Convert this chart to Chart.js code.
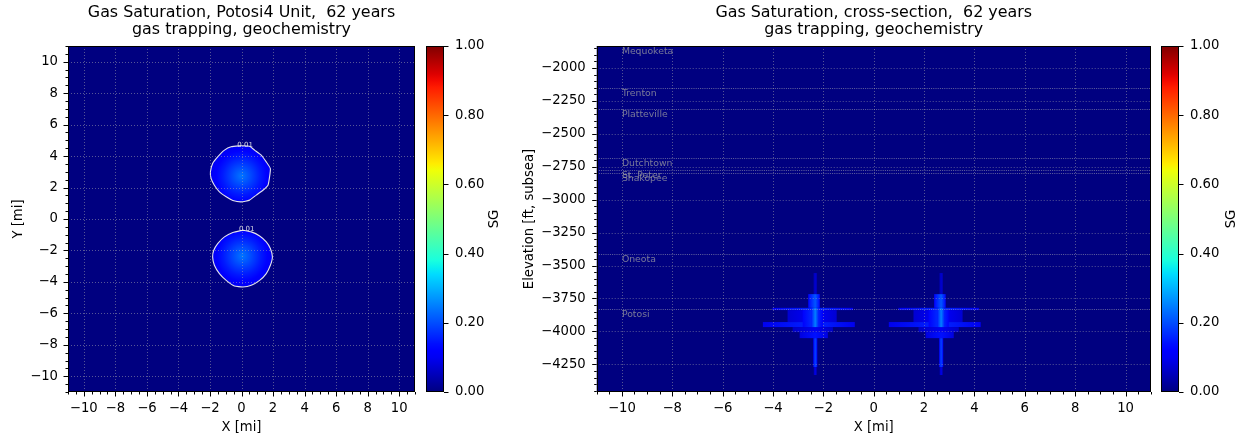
<!DOCTYPE html>
<html>
<head>
<meta charset="utf-8">
<script src="https://cdn.jsdelivr.net/npm/chart.js@4.4.0/dist/chart.umd.min.js"></script>
<style>
  body { margin: 0; background: #fff; width: 1241px; height: 438px; position: relative; overflow: hidden; }
  .panel { position: absolute; top: 0; height: 438px; }
  canvas { display: block; }
</style>
</head>
<body>
<div class="panel" style="left:0;width:430px"><canvas id="mapChart" width="430" height="438"></canvas></div>
<div class="panel" style="left:420px;width:100px"><canvas id="mapBar" width="100" height="438"></canvas></div>
<div class="panel" style="left:520px;width:640px"><canvas id="xsecChart" width="640" height="438"></canvas></div>
<div class="panel" style="left:1155px;width:86px"><canvas id="xsecBar" width="86" height="438"></canvas></div>
<script>
// ---- data ----
const mileTicks = [-10, -8, -6, -4, -2, 0, 2, 4, 6, 8, 10];
const elevTicks = [-2000, -2250, -2500, -2750, -3000, -3250, -3500, -3750, -4000, -4250];
const sgTicks = [0, 0.2, 0.4, 0.6, 0.8, 1.0];

// injection wells in map view
const wellX = [0.0, 0.04];
const wellY = [2.74, -2.35];

// SG = 0.01 contour around each well
const northContourX = [-0.02, -0.66, -1.08, -1.51, -1.83, -1.97, -1.93, -1.72, -1.40, -0.97, -0.55, -0.02, 0.51, 0.94, 1.36, 1.68, 1.78, 1.83, 1.57, 1.25, 0.83, 0.51, -0.02];
const northContourY = [4.66, 4.59, 4.38, 3.95, 3.53, 3.00, 2.58, 2.15, 1.73, 1.41, 1.18, 1.09, 1.20, 1.52, 1.83, 2.15, 2.68, 3.21, 3.63, 4.06, 4.38, 4.63, 4.66];
const southContourX = [0.08, -0.55, -1.08, -1.51, -1.76, -1.83, -1.72, -1.40, -0.97, -0.45, 0.08, 0.62, 1.15, 1.57, 1.83, 1.96, 1.83, 1.57, 1.15, 0.62, 0.08];
const southContourY = [-0.71, -0.86, -1.14, -1.56, -1.99, -2.41, -2.94, -3.47, -3.90, -4.26, -4.32, -4.21, -3.90, -3.47, -2.94, -2.41, -1.88, -1.46, -1.08, -0.82, -0.71];

// SG falling off with distance from a well [mi]
const profileRadius = [0, 0.4, 0.8, 1.2, 1.6, 2.0];
const profileSG = [0.24, 0.21, 0.18, 0.15, 0.12, 0.10];

// formation tops [ft, subsea]
const formationNames = ["Mequoketa", "Trenton", "Platteville", "Dutchtown", "St. Peter", "Shakopee", "Oneota", "Potosi"];
const formationTops = [-1833, -2149, -2313, -2687, -2776, -2797, -3413, -3828];

// wells along the cross-section line
const xsecWellX = [-2.32, 2.68];

// plume cells around each well: offsets [mi], depths [ft], SG
const cellLeft   = [-0.07, -1.70, -1.10, -2.08, -0.90, -0.62, -0.50, -0.28, -0.16, -0.08, -0.06];
const cellRight  = [ 0.07,  1.50,  0.85,  1.57,  0.70,  0.50,  0.30,  0.18,  0.14,  0.08,  0.06];
const cellTop    = [-3557, -3821, -3838, -3929, -3967, -4005, -3838, -3717, -3821, -4051, -4271];
const cellBottom = [-3717, -3838, -3929, -3967, -4005, -4051, -3967, -3821, -3967, -4271, -4331];
const cellSG     = [ 0.07,  0.16,  0.12,  0.16,  0.10,  0.14,  0.18,  0.21,  0.25,  0.19,  0.09];

// ---- helpers ----
const FONT = "'DejaVu Sans', 'Liberation Sans', sans-serif";
Chart.defaults.font.family = FONT;
Chart.defaults.color = "#000";

function jet(v) {
  const seg = (pts) => {
    for (let i = 1; i < pts.length; i++) {
      if (v <= pts[i][0]) {
        const [x0, y0] = pts[i - 1], [x1, y1] = pts[i];
        return y0 + (y1 - y0) * (v - x0) / (x1 - x0);
      }
    }
    return pts[pts.length - 1][1];
  };
  const r = seg([[0, 0], [0.35, 0], [0.66, 1], [0.89, 1], [1, 0.5]]);
  const g = seg([[0, 0], [0.125, 0], [0.375, 1], [0.64, 1], [0.91, 0], [1, 0]]);
  const b = seg([[0, 0.5], [0.11, 1], [0.34, 1], [0.65, 0], [1, 0]]);
  return `rgb(${Math.round(r * 255)},${Math.round(g * 255)},${Math.round(b * 255)})`;
}

const fmtMinus = (v) => String(v).replace("-", "\u2212");
const toPoints = (xs, ys) => xs.map((x, i) => ({ x: x, y: ys[i] }));

// background, dotted grid, frame and outward ticks
const axesDecor = {
  id: "axesDecor",
  beforeDatasetsDraw(chart, args, opts) {
    const { ctx, chartArea: a } = chart;
    if (!opts.background) return;
    ctx.save();
    ctx.fillStyle = opts.background;
    ctx.fillRect(a.left, a.top, a.right - a.left, a.bottom - a.top);
    ctx.restore();
  },
  afterDatasetsDraw(chart, args, opts) {
    if (!opts.grid) return;
    const { ctx, chartArea: a, scales } = chart;
    ctx.save();
    ctx.strokeStyle = "rgba(176,176,176,0.55)";
    ctx.lineWidth = 0.9;
    ctx.setLineDash([1, 2]);
    scales.x.ticks.forEach((t) => {
      const px = Math.round(scales.x.getPixelForValue(t.value)) + 0.5;
      ctx.beginPath(); ctx.moveTo(px, a.top); ctx.lineTo(px, a.bottom); ctx.stroke();
    });
    scales.y.ticks.forEach((t) => {
      const py = Math.round(scales.y.getPixelForValue(t.value)) + 0.5;
      ctx.beginPath(); ctx.moveTo(a.left, py); ctx.lineTo(a.right, py); ctx.stroke();
    });
    ctx.restore();
  },
  afterDraw(chart, args, opts) {
    const { ctx, chartArea: a, scales } = chart;
    ctx.save();
    ctx.strokeStyle = "#000";
    ctx.lineWidth = 1;
    ctx.setLineDash([]);
    const tick = (x0, y0, x1, y1) => { ctx.beginPath(); ctx.moveTo(x0, y0); ctx.lineTo(x1, y1); ctx.stroke(); };
    if (opts.xTicks) {
      const sx = scales.x;
      sx.ticks.forEach((t) => {
        const px = Math.round(sx.getPixelForValue(t.value)) + 0.5;
        tick(px, a.bottom, px, a.bottom + 4.5);
      });
      for (let v = Math.ceil(sx.min / opts.minorX) * opts.minorX; v <= sx.max; v += opts.minorX) {
        if (sx.ticks.some((t) => Math.abs(t.value - v) < 1e-6)) continue;
        const px = Math.round(sx.getPixelForValue(v)) + 0.5;
        tick(px, a.bottom, px, a.bottom + 2.5);
      }
    }
    const sy = scales.y;
    const side = opts.ySide || "left";
    const edge = side === "left" ? a.left : a.right;
    const dir = side === "left" ? -1 : 1;
    sy.ticks.forEach((t) => {
      const py = Math.round(sy.getPixelForValue(t.value)) + 0.5;
      tick(edge, py, edge + dir * 4.5, py);
    });
    if (opts.minorY) {
      for (let v = Math.ceil(sy.min / opts.minorY) * opts.minorY; v <= sy.max; v += opts.minorY) {
        if (sy.ticks.some((t) => Math.abs(t.value - v) < 1e-6)) continue;
        const py = Math.round(sy.getPixelForValue(v)) + 0.5;
        tick(edge, py, edge + dir * 2.5, py);
      }
    }
    // frame
    ctx.strokeRect(Math.round(a.left) + 0.5, Math.round(a.top) + 0.5,
      Math.round(a.right - a.left) - 1, Math.round(a.bottom - a.top) - 1);
    // colorbar label
    if (opts.sideTitle) {
      ctx.fillStyle = "#000";
      ctx.font = `13.2px ${FONT}`;
      ctx.textAlign = "center";
      ctx.textBaseline = "middle";
      ctx.translate(opts.sideTitleX, (a.top + a.bottom) / 2);
      ctx.rotate(-Math.PI / 2);
      ctx.fillText(opts.sideTitle, 0, 0);
    }
    ctx.restore();
  }
};

// "0.01" labels on the map contours
const contourLabels = {
  id: "contourLabels",
  afterDatasetsDraw(chart) {
    const { ctx, scales } = chart;
    ctx.save();
    ctx.fillStyle = "rgba(235,235,235,0.9)";
    ctx.font = `7px ${FONT}`;
    ctx.textAlign = "center";
    ctx.textBaseline = "middle";
    [[northContourX, northContourY], [southContourX, southContourY]].forEach(([xs, ys]) => {
      const top = ys.indexOf(Math.max(...ys));
      ctx.fillText("0.01", scales.x.getPixelForValue(xs[top] + 0.25), scales.y.getPixelForValue(ys[top]) - 1);
    });
    ctx.restore();
  }
};

// plume cells plus formation tops on the cross-section
const xsecLayers = {
  id: "xsecLayers",
  beforeDatasetsDraw(chart) {
    const { ctx, chartArea: a, scales: { x, y } } = chart;
    ctx.save();
    ctx.beginPath();
    ctx.rect(a.left, a.top, a.right - a.left, a.bottom - a.top);
    ctx.clip();
    xsecWellX.forEach((wx) => {
      for (let i = 0; i < cellSG.length; i++) {
        const x0 = x.getPixelForValue(wx + cellLeft[i]);
        const x1 = x.getPixelForValue(wx + cellRight[i]);
        const y0 = y.getPixelForValue(cellTop[i]);
        const y1 = y.getPixelForValue(cellBottom[i]);
        const mid = (x.getPixelForValue(wx) - x0) / (x1 - x0);
        const g = ctx.createLinearGradient(x0, 0, x1, 0);
        g.addColorStop(0, jet(cellSG[i] * 0.6));
        g.addColorStop(Math.min(Math.max(mid, 0), 1), jet(cellSG[i]));
        g.addColorStop(1, jet(cellSG[i] * 0.6));
        ctx.fillStyle = g;
        ctx.fillRect(x0, y0, x1 - x0, y1 - y0);
      }
    });
    ctx.restore();
  },
  afterDatasetsDraw(chart) {
    const { ctx, chartArea: a, scales: { x, y } } = chart;
    ctx.save();
    ctx.strokeStyle = "rgba(185,185,185,0.6)";
    ctx.lineWidth = 0.9;
    ctx.setLineDash([1, 1.2]);
    ctx.fillStyle = "rgba(160,160,160,0.75)";
    ctx.font = `9.3px ${FONT}`;
    ctx.textAlign = "left";
    ctx.textBaseline = "top";
    formationTops.forEach((top, i) => {
      const py = Math.round(y.getPixelForValue(top)) + 0.5;
      ctx.beginPath(); ctx.moveTo(a.left, py); ctx.lineTo(a.right, py); ctx.stroke();
      ctx.fillText(formationNames[i], x.getPixelForValue(-10), py + 0.5);
    });
    ctx.restore();
  }
};

function plumeGradient(c, i) {
  const chart = c.chart;
  if (!chart.chartArea) return jet(profileSG[0]);
  const sx = chart.scales.x, sy = chart.scales.y;
  const cx = sx.getPixelForValue(wellX[i]);
  const cy = sy.getPixelForValue(wellY[i]);
  const rMax = profileRadius[profileRadius.length - 1];
  const rPx = sx.getPixelForValue(rMax) - sx.getPixelForValue(0);
  const g = chart.ctx.createRadialGradient(cx, cy, 0, cx, cy, rPx);
  profileRadius.forEach((r, k) => g.addColorStop(r / rMax, jet(profileSG[k])));
  return g;
}

const titleFont = { size: 15.9, weight: "normal", lineHeight: 1.113 };
const tickFont = { size: 13.2 };

function linearAxis(min, max, ticks, pad, extra) {
  return Object.assign({
    type: "linear", min: min, max: max,
    grid: { display: false, drawTicks: false },
    border: { display: false },
    afterBuildTicks: (ax) => { ax.ticks = ticks.map((v) => ({ value: v })); },
    ticks: { font: tickFont, padding: pad, callback: fmtMinus, autoSkip: false, maxRotation: 0 }
  }, extra);
}

// ---- map view ----
new Chart(document.getElementById("mapChart"), {
  type: "scatter",
  data: {
    datasets: [
      {
        data: toPoints(northContourX, northContourY),
        showLine: true, fill: "shape", tension: 0.15,
        borderColor: "rgba(240,240,240,0.95)", borderWidth: 1.1, pointRadius: 0,
        backgroundColor: (c) => plumeGradient(c, 0)
      },
      {
        data: toPoints(southContourX, southContourY),
        showLine: true, fill: "shape", tension: 0.15,
        borderColor: "rgba(240,240,240,0.95)", borderWidth: 1.1, pointRadius: 0,
        backgroundColor: (c) => plumeGradient(c, 1)
      },
      {
        data: toPoints(wellX, wellY),
        pointStyle: "cross", pointRadius: 3.5, borderColor: "#000", borderWidth: 1.6
      }
    ]
  },
  options: {
    responsive: false, animation: false, events: [], devicePixelRatio: 1,
    layout: { padding: { left: 0, right: 15, top: 0, bottom: 0 } },
    plugins: {
      legend: { display: false }, tooltip: { enabled: false },
      title: {
        display: true, fullSize: false, color: "#000", font: titleFont,
        text: ["Gas Saturation, Potosi4 Unit,  62 years", "gas trapping, geochemistry"],
        padding: { top: 3.8, bottom: 6.8 }
      },
      axesDecor: { background: jet(0), grid: true, xTicks: true, minorX: 0.5, minorY: 0.5, ySide: "left" }
    },
    scales: {
      x: linearAxis(-11, 11, mileTicks, 9, {
        afterFit: (ax) => { ax.height = 46; },
        title: { display: true, text: "X [mi]", font: tickFont, padding: { top: 0, bottom: 3 } }
      }),
      y: linearAxis(-11, 11, mileTicks, 10, {
        afterFit: (ax) => { ax.width = 68; },
        title: { display: true, text: "Y [mi]", font: tickFont, padding: { top: 11, bottom: 0 } }
      })
    }
  },
  plugins: [axesDecor, contourLabels]
});

// ---- cross-section ----
new Chart(document.getElementById("xsecChart"), {
  type: "scatter",
  data: { datasets: [] },
  options: {
    responsive: false, animation: false, events: [], devicePixelRatio: 1,
    layout: { padding: { left: 0, right: 9.3, top: 0, bottom: 0 } },
    plugins: {
      legend: { display: false }, tooltip: { enabled: false },
      title: {
        display: true, fullSize: false, color: "#000", font: titleFont,
        text: ["Gas Saturation, cross-section,  62 years", "gas trapping, geochemistry"],
        padding: { top: 3.8, bottom: 6.8 }
      },
      axesDecor: { background: jet(0), grid: true, xTicks: true, minorX: 0.5, minorY: 50, ySide: "left" }
    },
    scales: {
      x: linearAxis(-11, 11, mileTicks, 9, {
        afterFit: (ax) => { ax.height = 46; },
        title: { display: true, text: "X [mi]", font: tickFont, padding: { top: 0, bottom: 3 } }
      }),
      y: linearAxis(-4460, formationTops[0], elevTicks, 11, {
        afterFit: (ax) => { ax.width = 76.7; },
        title: { display: true, text: "Elevation [ft, subsea]", font: tickFont, padding: { top: 2, bottom: 0 } }
      })
    }
  },
  plugins: [axesDecor, xsecLayers]
});

// ---- colorbars ----
function colorbar(id, axisWidth, labelX) {
  return new Chart(document.getElementById(id), {
    type: "bar",
    data: {
      labels: ["SG"],
      datasets: [{
        data: [[sgTicks[0], sgTicks[sgTicks.length - 1]]],
        barPercentage: 1, categoryPercentage: 1, borderWidth: 0,
        backgroundColor: (c) => {
          const chart = c.chart;
          if (!chart.chartArea) return jet(0);
          const sy = chart.scales.y;
          const g = chart.ctx.createLinearGradient(0, sy.getPixelForValue(0), 0, sy.getPixelForValue(1));
          for (let k = 0; k <= 50; k++) g.addColorStop(k / 50, jet(k / 50));
          return g;
        }
      }]
    },
    options: {
      responsive: false, animation: false, events: [], devicePixelRatio: 1,
      layout: { padding: { left: 6, right: 0, top: 46, bottom: 46 } },
      plugins: {
        legend: { display: false }, tooltip: { enabled: false },
        axesDecor: { ySide: "right", sideTitle: "SG", sideTitleX: labelX }
      },
      scales: {
        x: { display: false },
        y: linearAxis(0, 1, sgTicks, 11, {
          position: "right",
          afterFit: (ax) => { ax.width = axisWidth; },
          ticks: { font: tickFont, padding: 11, callback: (v) => Number(v).toFixed(2) }
        })
      }
    },
    plugins: [axesDecor]
  });
}
colorbar("mapBar", 76, 75);
colorbar("xsecBar", 62, 77);
</script>
</body>
</html>
